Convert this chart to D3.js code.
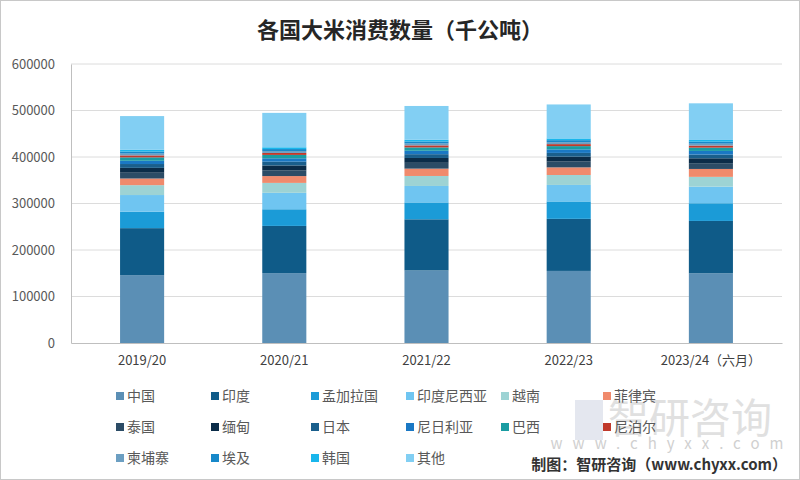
<!DOCTYPE html>
<html><head><meta charset="utf-8">
<script src="https://cdn.jsdelivr.net/npm/d3@7"></script>
<style>body{margin:0;background:#fff;}svg{display:block;}</style>
</head><body><svg id="c" width="800" height="480"></svg>
<script>
const categories = ["2019/20","2020/21","2021/22","2022/23","2023/24（六月）"];
const seriesNames = ["中国","印度","孟加拉国","印度尼西亚","越南","菲律宾","泰国","缅甸","日本","尼日利亚","巴西","尼泊尔","柬埔寨","埃及","韩国","其他"];
const china       = [146000,150300,156000,155000,150000];
const india       = [101000,101500,110000,112000,112500];
const bangladesh  = [35400,35800,36300,37400,38000];
const indonesia   = [35800,35400,35400,35500,35800];
const vietnam     = [21250,21300,21500,21400,21000];
const philippines = [14300,14700,15800,16400,17000];
const thailand    = [12500,12400,12500,12500,12400];
const myanmar     = [10400,10400,10400,10500,10500];
const japan       = [8250,8200,8150,8100,8050];
const nigeria     = [7000,7200,7400,7600,7800];
const brazil      = [7300,7300,7200,7000,7100];
const nepal       = [4200,4200,4300,4300,4400];
const cambodia    = [4000,4100,4100,4200,4200];
const egypt       = [4300,4300,4300,4300,4300];
const korea       = [3800,3800,3700,3700,3600];
const others      = [72500,74000,72700,73100,78800];
const yTicks = [0,100000,200000,300000,400000,500000,600000];
const colors = ["#5b8fb5","#0f5b88","#1b9bd7","#6fc5f1","#9dd3d4","#f08a6c","#2c4c66","#0b2c48","#1a5f8c","#1a78c4","#1a9ca2","#c0392b","#6c9fc2","#1788c9","#19b6ec","#82cff3"];
const seriesValues = [china,india,bangladesh,indonesia,vietnam,philippines,thailand,myanmar,japan,nigeria,brazil,nepal,cambodia,egypt,korea,others];

const svg = d3.select("#c");
const font = "'Noto Sans CJK SC','Noto Sans',sans-serif";
svg.append("rect").attr("x",0.5).attr("y",0.5).attr("width",799).attr("height",479).attr("fill","#fff").attr("stroke","#c8c8c8");

const x = d3.scaleBand().domain(categories).range([71,782]).paddingInner(0.69).paddingOuter(0.345);
const y = d3.scaleLinear().domain([0,600000]).range([343,64]);

// grid
svg.append("g").selectAll("line").data(yTicks.filter(d=>d>0)).join("line")
  .attr("x1",71).attr("x2",782).attr("y1",d=>y(d)).attr("y2",d=>y(d))
  .attr("stroke","#dcdcdc").attr("stroke-width",1);

// y axis labels
const yAxis = d3.axisLeft(y).tickValues(yTicks).tickSize(0).tickPadding(16).tickFormat(d3.format("d"));
const yg = svg.append("g").attr("transform","translate(71,0)").call(yAxis);
yg.select(".domain").attr("stroke","#bfbfbf");
yg.selectAll("text").attr("font-family",font).attr("font-size",13).attr("fill","#595959");

// stacked data
const rows = categories.map((c,i)=>{const o={cat:c}; seriesNames.forEach((s,j)=>o[s]=seriesValues[j][i]); return o;});
const stack = d3.stack().keys(seriesNames)(rows);
svg.append("g").selectAll("g").data(stack).join("g").attr("fill",(d,i)=>colors[i])
  .selectAll("rect").data(d=>d).join("rect")
  .attr("x",d=>x(d.data.cat)).attr("width",x.bandwidth())
  .attr("y",d=>y(d[1])).attr("height",d=>y(d[0])-y(d[1]));

// x axis
const xAxis = d3.axisBottom(x).tickSize(0).tickPadding(13);
const xg = svg.append("g").attr("transform","translate(0,343)").call(xAxis);
xg.select(".domain").attr("stroke","#bfbfbf");
xg.selectAll("text").attr("font-family",font).attr("font-size",13).attr("fill","#404040");

// title
svg.append("text").attr("x",400).attr("y",38).attr("text-anchor","middle")
  .attr("font-family","'Noto Sans CJK SC',sans-serif").attr("font-weight","bold").attr("font-size",22).attr("fill","#262626")
  .text("各国大米消费数量（千公吨）");

// watermark (behind legend)
const wm = svg.insert("g","g");
wm.append("rect").attr("x",575).attr("y",400).attr("width",28).attr("height",40).attr("fill","#d8dde8").attr("opacity",0.7);
svg.append("text").attr("x",690).attr("y",433).attr("text-anchor","middle").attr("font-family",font)
  .attr("font-size",41).attr("fill","#d6d6d6").attr("opacity",0.75).text("智研咨询");
svg.append("text").attr("x",672).attr("y",449).attr("text-anchor","middle").attr("font-family",font)
  .attr("font-size",15).attr("fill","#d0d0d0").attr("letter-spacing",10).text("www.chyxx.com");

// legend
const colX = [116,211,311,406,501,603];
const rowY = [396,427,458];
const leg = svg.append("g").selectAll("g").data(seriesNames).join("g")
  .attr("transform",(d,i)=>`translate(${colX[i%6]},${rowY[Math.floor(i/6)]})`);
leg.append("rect").attr("x",0).attr("y",-4).attr("width",8).attr("height",8).attr("fill",(d,i)=>colors[i]);
leg.append("text").attr("x",11).attr("y",0).attr("dy","0.35em").attr("font-family",font)
  .attr("font-size",14).attr("fill","#595959").text(d=>d);

// source
svg.append("text").attr("x",787).attr("y",470).attr("text-anchor","end").attr("font-family",font)
  .attr("font-weight","bold").attr("font-size",15).attr("fill","#333").text("制图：智研咨询（www.chyxx.com）");
</script></body></html>
